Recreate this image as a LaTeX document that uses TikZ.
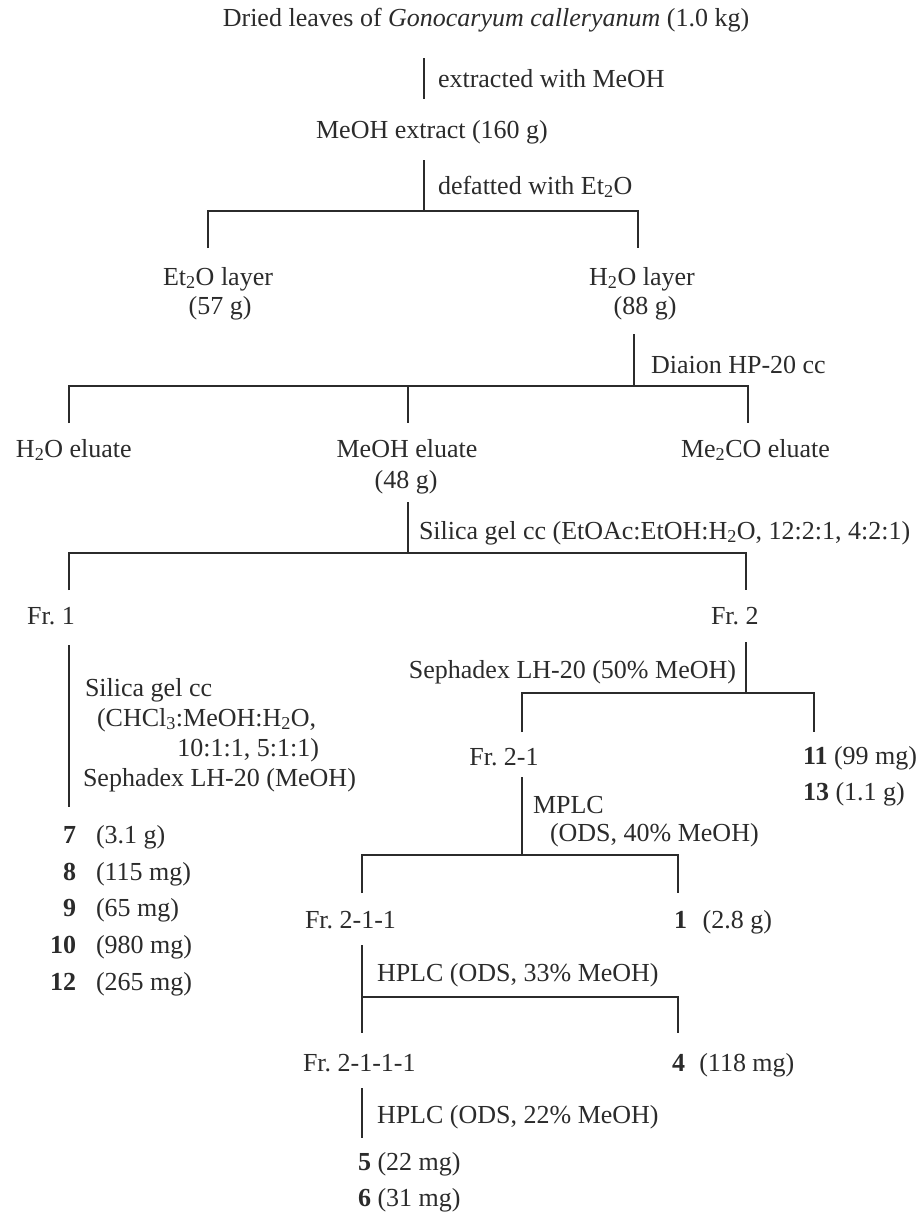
\documentclass[tikz,border=0pt]{standalone}
\usepackage{fontspec}
\setmainfont{Liberation Serif}
\newcommand{\sbt}[1]{\textsubscript{#1}}
\definecolor{ink}{HTML}{2B2B2B}
\frenchspacing
\begin{document}
\begin{tikzpicture}[x=1pt,y=-1pt,line width=2pt,line join=miter,
  every path/.style={draw=ink},
  t/.style={inner sep=0pt,text=ink,font=\fontsize{26}{30}\selectfont\frenchspacing},
  tb/.style={t,anchor=base},
  tw/.style={t,anchor=base west},
  te/.style={t,anchor=base east}]
\useasboundingbox[fill=white,draw=none] (0,0) rectangle (923,1213);

% ---- texts ----
\node[tb] (title) at (486,26) {Dried leaves of \textit{Gonocaryum calleryanum} (1.0 kg)};
\node[tw] (l1) at (437,87) {extracted with MeOH};
\node[tb] (ext) at (432,138) {MeOH extract (160 g)};
\node[tw] (l2) at (437,194) {defatted with Et\sbt{2}O};
\node[tb] (et) at (218,285) {Et\sbt{2}O layer};
\node[tb] (et2) at (220,314) {(57 g)};
\node[tb] (hw) at (642,285) {H\sbt{2}O layer};
\node[tb] (hw2) at (645,314) {(88 g)};
\node[tw] (l3) at (650,373) {Diaion HP-20 cc};
\node[tw] (he) at (15,457) {H\sbt{2}O eluate};
\node[tb] (me) at (407,457) {MeOH eluate};
\node[tb] (me2) at (406,488) {(48 g)};
\node[tw] (ac) at (680,457) {Me\sbt{2}CO eluate};
\node[tw] (l4) at (418,539) {Silica gel cc (EtOAc:EtOH:H\sbt{2}O, 12:2:1, 4:2:1)};
\node[tb] (f1) at (51,624) {Fr. 1};
\node[tw] (f2) at (710,624) {Fr. 2};
\node[tw] (l5a) at (84,696) {Silica gel cc};
\node[tw] (l5b) at (96,726) {(CHCl\sbt{3}:MeOH:H\sbt{2}O,};
\node[te] (l5c) at (320,756) {10:1:1, 5:1:1)};
\node[tw] (l5d) at (82,786) {Sephadex LH-20 (MeOH)};
\node[te] (c7) at (77,843) {\textbf{7}};
\node[tw] (c7m) at (95,843) {(3.1 g)};
\node[te] (c8) at (77,880) {\textbf{8}};
\node[tw] (c8m) at (95,880) {(115 mg)};
\node[te] (c9) at (77,916) {\textbf{9}};
\node[tw] (c9m) at (95,916) {(65 mg)};
\node[te] (c10) at (77,953) {\textbf{10}};
\node[tw] (c10m) at (95,953) {(980 mg)};
\node[te] (c12) at (77,990) {\textbf{12}};
\node[tw] (c12m) at (95,990) {(265 mg)};
\node[te] (l6) at (737,678) {Sephadex LH-20 (50\% MeOH)};
\node[tb] (f21) at (504,765) {Fr. 2-1};
\node[tw] (c11) at (802,764) {\textbf{11} (99 mg)};
\node[tw] (c13) at (802,800) {\textbf{13} (1.1 g)};
\node[tw] (l7a) at (532,813) {MPLC};
\node[tw] (l7b) at (549,841) {(ODS, 40\% MeOH)};
\node[tw] (f211) at (304,928) {Fr. 2-1-1};
\node[tw] (c1) at (673,928) {\textbf{1}\hspace{0.6em}(2.8 g)};
\node[tw] (l8) at (376,981) {HPLC (ODS, 33\% MeOH)};
\node[tw] (f2111) at (302,1071) {Fr. 2-1-1-1};
\node[tw] (c4) at (671,1071) {\textbf{4}\hspace{0.55em}(118 mg)};
\node[tw] (l9) at (376,1123) {HPLC (ODS, 22\% MeOH)};
\node[tw] (c5) at (357,1170) {\textbf{5} (22 mg)};
\node[tw] (c6) at (357,1206) {\textbf{6} (31 mg)};

% ---- connectors ----
\coordinate (a1) at (424,58);  \coordinate (a2) at (424,99);
\draw (a1) -- (a2);
\coordinate (b1) at (424,160); \coordinate (b2) at (424,211);
\coordinate (b3) at (208,211); \coordinate (b4) at (208,248);
\coordinate (b5) at (638,211); \coordinate (b6) at (638,248);
\draw (b1) -- (b2);
\draw (b4) -- (b3) -- (b5) -- (b6);
\coordinate (c1a) at (634,334); \coordinate (c1b) at (634,386);
\coordinate (c2) at (69,386);  \coordinate (c3) at (69,423);
\coordinate (c4a) at (748,386); \coordinate (c5) at (748,423);
\coordinate (c6a) at (408,386); \coordinate (c7a) at (408,423);
\draw (c1a) -- (c1b);
\draw (c3) -- (c2) -- (c4a) -- (c5);
\draw (c6a) -- (c7a);
\coordinate (d1) at (408,502); \coordinate (d2) at (408,553);
\coordinate (d3) at (69,553);  \coordinate (d4) at (69,590);
\coordinate (d5) at (746,553); \coordinate (d6) at (746,590);
\draw (d1) -- (d2);
\draw (d4) -- (d3) -- (d5) -- (d6);
\coordinate (e1) at (69,645); \coordinate (e2) at (69,807);
\draw (e1) -- (e2);
\coordinate (g1) at (746,642); \coordinate (g2) at (746,693);
\coordinate (g3) at (522,693); \coordinate (g4) at (522,732);
\coordinate (g5) at (814,693); \coordinate (g6) at (814,732);
\draw (g1) -- (g2);
\draw (g4) -- (g3) -- (g5) -- (g6);
\coordinate (k1) at (522,777); \coordinate (k2) at (522,855);
\coordinate (k3) at (362,855); \coordinate (k4) at (362,893);
\coordinate (k5) at (678,855); \coordinate (k6) at (678,893);
\draw (k1) -- (k2);
\draw (k4) -- (k3) -- (k5) -- (k6);
\coordinate (m1) at (362,945); \coordinate (m2) at (362,1033);
\coordinate (m3) at (362,997); \coordinate (m4) at (678,997);
\coordinate (m5) at (678,1033);
\draw (m1) -- (m2);
\draw (m3) -- (m4) -- (m5);
\coordinate (n1) at (362,1088); \coordinate (n2) at (362,1138);
\draw (n1) -- (n2);
\end{tikzpicture}
\end{document}
